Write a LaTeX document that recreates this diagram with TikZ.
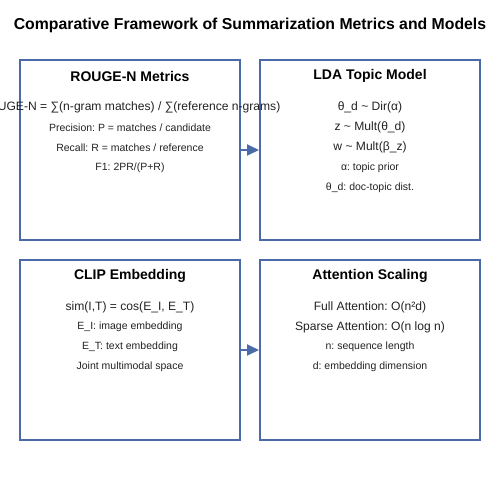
\documentclass[tikz,border=0pt]{standalone}
\usepackage{fontspec}
\setmainfont{Liberation Sans}
\usetikzlibrary{arrows.meta}
\definecolor{boxblue}{HTML}{4A6BA8}
\definecolor{txt}{HTML}{222222}
\frenchspacing
\begin{document}
\begin{tikzpicture}[x=1pt,y=-1pt,
  panel/.style={draw=boxblue,line width=2pt,minimum width=220pt,minimum height=180pt,inner sep=0pt},
  ptitle/.style={font=\fontsize{14}{16}\selectfont\bfseries,text=black,inner sep=0pt},
  big/.style={font=\fontsize{12.1}{14}\selectfont,text=txt,inner sep=0pt},
  small/.style={font=\fontsize{10.5}{12}\selectfont,text=txt,inner sep=0pt},
  conn/.style={draw=boxblue,line width=2pt,-{Triangle[length=12pt,width=11pt]}}]
\useasboundingbox (0,0) rectangle (500,500);
\node[font=\fontsize{15.8}{18}\selectfont\bfseries,inner sep=0pt] (title) at (250,25) {Comparative Framework of Summarization Metrics and Models};
\node[panel] (rouge) at (130,150) {};
\node[panel] (lda) at (370,150) {};
\node[panel] (clip) at (130,350) {};
\node[panel] (att) at (370,350) {};
% ROUGE
\node[ptitle] (rt) at (130,76) {ROUGE-N Metrics};
\node[big] (r1) at (130,107) {ROUGE-N = ∑(n-gram matches) / ∑(reference n-grams)};
\node[small] (r2) at (130,128) {Precision: P = matches / candidate};
\node[small] (r3) at (130,148) {Recall: R = matches / reference};
\node[small] (r4) at (130,168) {F1: 2PR/(P+R)};
% LDA
\node[ptitle] (lt) at (370,76) {LDA Topic Model};
\node[big] (l1) at (370,107) {θ\_d \textasciitilde{} Dir(α)};
\node[big] (l2) at (370,127) {z \textasciitilde{} Mult(θ\_d)};
\node[big] (l3) at (370,147) {w \textasciitilde{} Mult(β\_z)};
\node[small] (l4) at (370,168) {α: topic prior};
\node[small] (l5) at (370,188) {θ\_d: doc-topic dist.};
% CLIP
\node[ptitle] (ct) at (130,276) {CLIP Embedding};
\node[big] (c1) at (130,307) {sim(I,T) = cos(E\_I, E\_T)};
\node[small] (c2) at (130,327) {E\_I: image embedding};
\node[small] (c3) at (130,347) {E\_T: text embedding};
\node[small] (c4) at (130,367) {Joint multimodal space};
% Attention
\node[ptitle] (at) at (370,276) {Attention Scaling};
\node[big] (a1) at (370,307) {Full Attention: O(n²d)};
\node[big] (a2) at (370,327) {Sparse Attention: O(n log n)};
\node[small] (a3) at (370,347) {n: sequence length};
\node[small] (a4) at (370,367) {d: embedding dimension};
% connectors
\draw[conn] (rouge.east) -- (lda.west);
\draw[conn] (clip.east) -- (att.west);
\end{tikzpicture}
\end{document}
